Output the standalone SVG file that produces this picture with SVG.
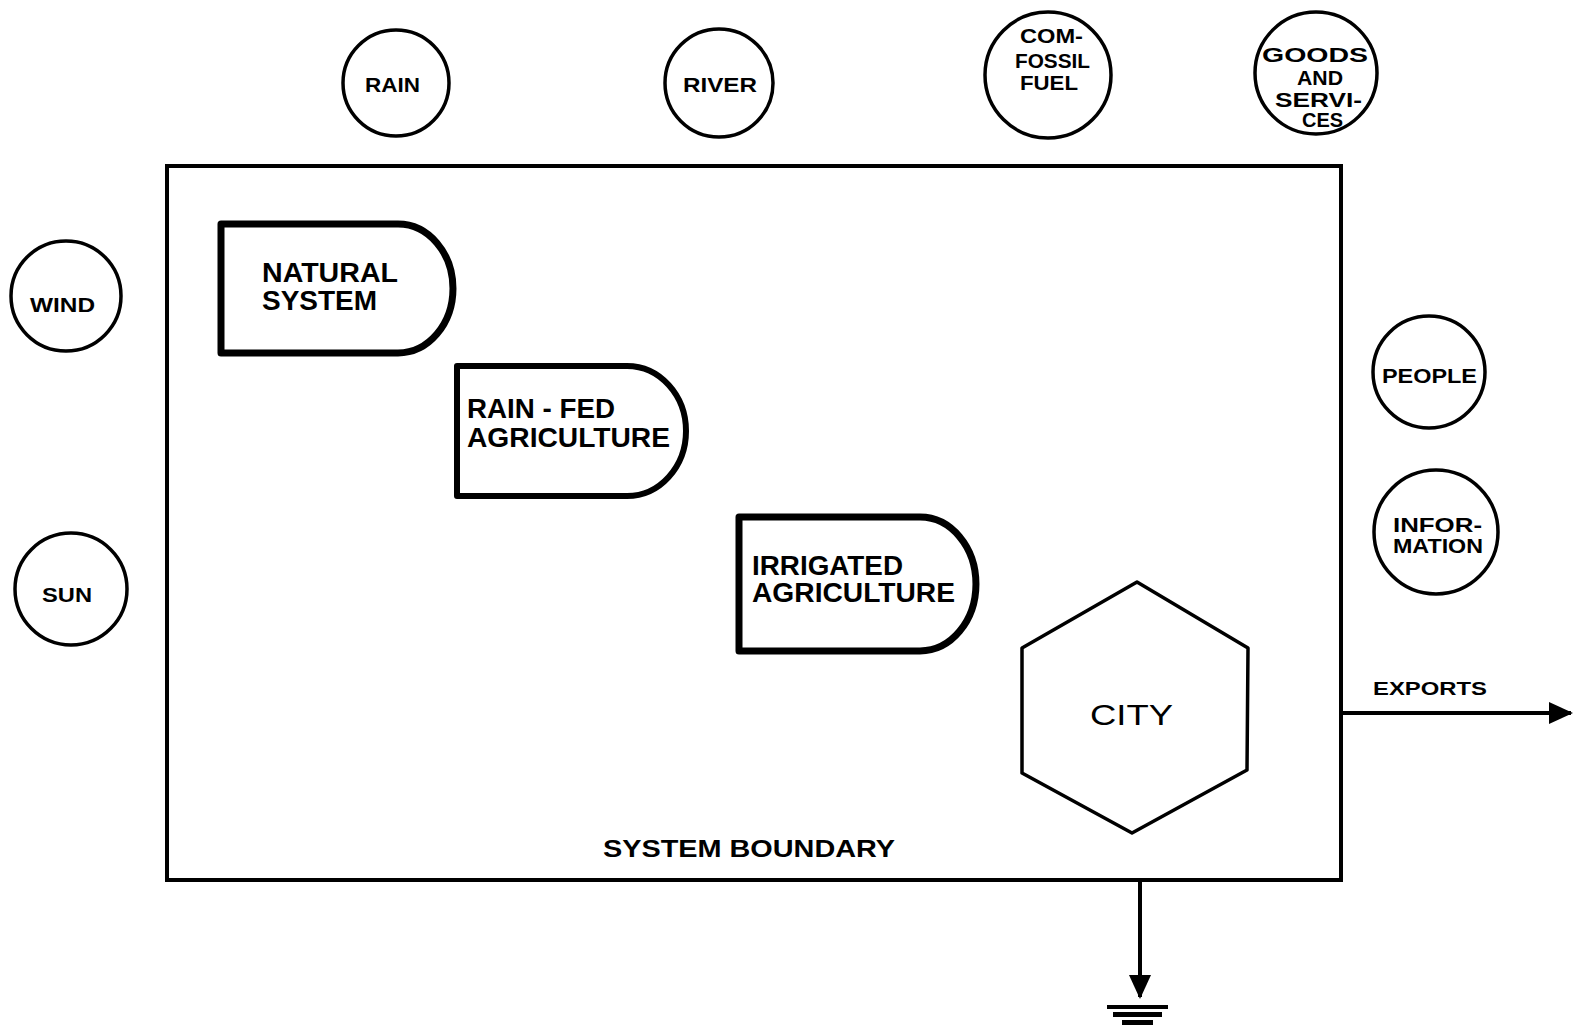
<svg xmlns="http://www.w3.org/2000/svg" width="1578" height="1028" viewBox="0 0 1578 1028">
  <style>
    .src { fill: #fff; stroke: #000; stroke-width: 3.5; }
    .store { fill: #fff; stroke: #000; stroke-width: 7; stroke-linejoin: round; }
    .hex { fill: #fff; stroke: #000; stroke-width: 3.5; stroke-linejoin: round; }
    .boundary { fill: none; stroke: #000; stroke-width: 4; }
    .flow { fill: none; stroke: #000; stroke-width: 4; }
    text { font-family: "Liberation Sans", Arial, Helvetica, sans-serif; font-weight: 700; fill: #000; }
    .s { font-size: 20px; }
    .m { font-size: 27px; }
    .c { text-anchor: middle; }
  </style>
  <defs>
    <marker id="arrow" viewBox="0 0 24 22" refX="22" refY="11" markerWidth="24" markerHeight="22" markerUnits="userSpaceOnUse" orient="auto">
      <path d="M0,0 L24,11 L0,22 Z" fill="#000"/>
    </marker>
  </defs>

  <rect id="system-boundary" class="boundary" x="167" y="166" width="1174" height="714"/>
  <text class="m" x="603" y="857" textLength="292" lengthAdjust="spacingAndGlyphs" style="font-size:24px">SYSTEM BOUNDARY</text>

  <g id="connectors">
    <path class="flow" d="M1341,713 H1571" marker-end="url(#arrow)"/>
    <text class="s" x="1373" y="695" textLength="114" lengthAdjust="spacingAndGlyphs" style="font-size:19px">EXPORTS</text>
    <path class="flow" d="M1140,880 V997" marker-end="url(#arrow)"/>
    <g id="heat-sink" fill="#000">
      <rect x="1107" y="1005" width="61" height="4"/>
      <rect x="1113" y="1012" width="49" height="5"/>
      <rect x="1122" y="1020" width="31" height="5"/>
    </g>
  </g>

  <g id="rain">
    <circle class="src" cx="396" cy="83" r="53"/>
    <text class="s" x="365" y="92" textLength="55" lengthAdjust="spacingAndGlyphs">RAIN</text>
  </g>
  <g id="river">
    <circle class="src" cx="719" cy="83" r="54"/>
    <text class="s" x="683" y="92" textLength="74" lengthAdjust="spacingAndGlyphs">RIVER</text>
  </g>
  <g id="fossil-fuel">
    <circle class="src" cx="1048" cy="75" r="63"/>
    <text class="s" x="1020" y="43" textLength="63" lengthAdjust="spacingAndGlyphs">COM-</text>
    <text class="s" x="1015" y="68" textLength="75" lengthAdjust="spacingAndGlyphs">FOSSIL</text>
    <text class="s" x="1020" y="90" textLength="58" lengthAdjust="spacingAndGlyphs">FUEL</text>
  </g>
  <g id="goods-services">
    <circle class="src" cx="1316" cy="73" r="61"/>
    <text class="s" x="1262" y="62" textLength="106" lengthAdjust="spacingAndGlyphs">GOODS</text>
    <text class="s" x="1297" y="85" textLength="46" lengthAdjust="spacingAndGlyphs">AND</text>
    <text class="s" x="1275" y="107" textLength="87" lengthAdjust="spacingAndGlyphs">SERVI-</text>
    <text class="s" x="1302" y="127" textLength="41" lengthAdjust="spacingAndGlyphs">CES</text>
  </g>
  <g id="wind">
    <circle class="src" cx="66" cy="296" r="55"/>
    <text class="s" x="30" y="312" textLength="65" lengthAdjust="spacingAndGlyphs">WIND</text>
  </g>
  <g id="sun">
    <circle class="src" cx="71" cy="589" r="56"/>
    <text class="s" x="42" y="602" textLength="50" lengthAdjust="spacingAndGlyphs">SUN</text>
  </g>
  <g id="people">
    <circle class="src" cx="1429" cy="372" r="56"/>
    <text class="s" x="1382" y="383" textLength="95" lengthAdjust="spacingAndGlyphs">PEOPLE</text>
  </g>
  <g id="information">
    <circle class="src" cx="1436" cy="532" r="62"/>
    <text class="s" x="1393" y="532" textLength="89" lengthAdjust="spacingAndGlyphs">INFOR-</text>
    <text class="s" x="1393" y="553" textLength="90" lengthAdjust="spacingAndGlyphs">MATION</text>
  </g>

  <g id="natural-system">
    <path class="store" d="M221,224 H398 A55,64.5 0 0 1 398,353 H221 Z"/>
    <text class="m" x="262" y="282" textLength="136" lengthAdjust="spacingAndGlyphs">NATURAL</text>
    <text class="m" x="262" y="310" textLength="115" lengthAdjust="spacingAndGlyphs">SYSTEM</text>
  </g>
  <g id="rain-fed-agriculture">
    <path class="store" style="stroke-width:6" d="M457,366 H627 A59,65 0 0 1 627,496 H457 Z"/>
    <text class="m" x="467" y="418" textLength="148" lengthAdjust="spacingAndGlyphs">RAIN - FED</text>
    <text class="m" x="467" y="447" textLength="203" lengthAdjust="spacingAndGlyphs">AGRICULTURE</text>
  </g>
  <g id="irrigated-agriculture">
    <path class="store" d="M739,517 H920 A56,67 0 0 1 920,651 H739 Z"/>
    <text class="m" x="752" y="575" textLength="151" lengthAdjust="spacingAndGlyphs">IRRIGATED</text>
    <text class="m" x="752" y="602" textLength="203" lengthAdjust="spacingAndGlyphs">AGRICULTURE</text>
  </g>
  <g id="city">
    <polygon class="hex" points="1137,582 1248,648 1247,770 1132,833 1022,773 1022,648"/>
    <text x="1090" y="725" textLength="83" lengthAdjust="spacingAndGlyphs" style="font-size:30px;font-weight:400">CITY</text>
  </g>
</svg>
